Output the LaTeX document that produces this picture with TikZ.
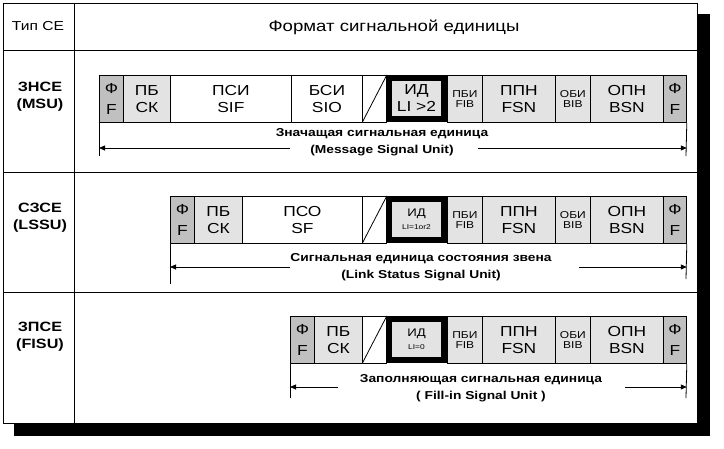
\documentclass[tikz,border=0pt]{standalone}
\usepackage{fontspec}
\setmainfont{Liberation Sans}[FakeStretch=1.2]
\usetikzlibrary{arrows.meta}
\definecolor{fdark}{RGB}{192,192,192}
\definecolor{flight}{RGB}{227,227,227}
\newcommand\myfs[2]{\fontsize{#1}{#2}\selectfont}
\tikzset{
  gridln/.style={line width=0.9pt, draw=black},
  cellbox/.style={draw=black, line width=0.8pt, inner sep=0pt, anchor=north west,
    minimum height=47pt, align=center, font=\myfs{14.5}{17}},
  bigtxt/.style={font=\myfs{14.5}{17}},
  smalltxt/.style={font=\myfs{10}{10.5}},
  idbox/.style={draw=black, line width=6pt, fill=flight, inner sep=0pt,
    minimum width=55pt, minimum height=41pt, align=center},
  frameln/.style={line width=0.8pt},
  arr/.style={line width=0.8pt, -{Triangle[length=6pt,width=5pt]}},
  desc/.style={align=center, font=\bfseries\myfs{11.5}{17}},
  rowlab/.style={align=center, font=\bfseries\myfs{13.5}{17}},
}
\newcommand\rightpart[2]{%
  \node[cellbox, fill=white, minimum width=24pt] (#1s) at (362,#2) {};
  \draw[line width=0.8pt] (#1s.south west) -- (#1s.north east);
  \node[cellbox, fill=flight, minimum width=35pt, smalltxt] (#1fib) at (447,#2) {ПБИ\\FIB};
  \node[cellbox, fill=flight, minimum width=73pt] (#1fsn) at (482,#2) {ППН\\FSN};
  \node[cellbox, fill=flight, minimum width=35pt, smalltxt] (#1bib) at (555,#2) {ОБИ\\BIB};
  \node[cellbox, fill=flight, minimum width=73pt] (#1bsn) at (590,#2) {ОПН\\BSN};
  \node[cellbox, fill=fdark, minimum width=23pt, font=\myfs{14.5}{21}] (#1fr) at (663,#2) {Ф\\F};
}
\begin{document}
\begin{tikzpicture}[x=1pt,y=-1pt]
\useasboundingbox (0,0) rectangle (724,448);
% shadow and table
\fill[black] (14,14) rectangle (710,436);
\node[draw=black, line width=0.9pt, fill=white, minimum width=694pt, minimum height=420pt,
  inner sep=0pt, anchor=north west] (tbl) at (3,3) {};
\coordinate (c1t) at (74,3);
\coordinate (c1b) at (74,423);
\draw[gridln] (c1t) -- (c1b);
\coordinate (h1l) at (3,50);   \coordinate (h1r) at (697,50);
\coordinate (h2l) at (3,172);  \coordinate (h2r) at (697,172);
\coordinate (h3l) at (3,292);  \coordinate (h3r) at (697,292);
\draw[gridln] (h1l) -- (h1r);
\draw[gridln] (h2l) -- (h2r);
\draw[gridln] (h3l) -- (h3r);
% header
\node[font=\myfs{13}{15}] (hType) at (38,26) {Тип СЕ};
\node[font=\myfs{15.5}{18}] (hFmt) at (394,27) {Формат сигнальной единицы};
% row labels
\node[rowlab] (rMSU) at (40,97) {ЗНСЕ\\(MSU)};
\node[rowlab] (rLSSU) at (40,218) {СЗСЕ\\(LSSU)};
\node[rowlab] (rFISU) at (40,337) {ЗПСЕ\\(FISU)};

% ===== MSU =====
\node[cellbox, fill=fdark, minimum width=24pt, font=\myfs{14.5}{21}] (m1) at (99,75) {Ф\\F};
\node[cellbox, fill=flight, minimum width=47pt] (m2) at (123,75) {ПБ\\СК};
\node[cellbox, fill=white, minimum width=121pt] (m3) at (170,75) {ПСИ\\SIF};
\node[cellbox, fill=white, minimum width=71pt] (m4) at (291,75) {БСИ\\SIO};
\rightpart{m}{75}
\node[idbox, bigtxt] (mid) at (416.5,98.5) {ИД\\LI >2};
\coordinate (mLd) at (99,156);
\coordinate (mRd) at (686,156);
\draw[frameln] (m1.south west) -- (mLd);
\draw[frameln] (mfr.south east) -- (mRd);
\node[desc] (mdesc) at (382,142) {Значащая сигнальная единица\\(Message Signal Unit)};
\coordinate (mLa) at (290,148);
\coordinate (mRa) at (478,148);
\draw[arr] (mLa) -- (mLa -| m1.west);
\draw[arr] (mRa) -- (mRa -| mfr.east);

% ===== LSSU =====
\node[cellbox, fill=fdark, minimum width=24pt, font=\myfs{14.5}{21}] (l1) at (170,196) {Ф\\F};
\node[cellbox, fill=flight, minimum width=48pt] (l2) at (194,196) {ПБ\\СК};
\node[cellbox, fill=white, minimum width=120pt] (l3) at (242,196) {ПСО\\SF};
\rightpart{l}{196}
\node[idbox, font=\myfs{11}{13}] (lid) at (416.5,219.5) {ИД\\{\myfs{7}{7}LI=1or2}};
\coordinate (lLd) at (170,284);
\coordinate (lRd) at (686,279);
\draw[frameln] (l1.south west) -- (lLd);
\draw[frameln] (lfr.south east) -- (lRd);
\node[desc] (ldesc) at (421,267) {Сигнальная единица состояния звена\\(Link Status Signal Unit)};
\coordinate (lLa) at (290,267);
\coordinate (lRa) at (579,267);
\draw[arr] (lLa) -- (lLa -| l1.west);
\draw[arr] (lRa) -- (lRa -| lfr.east);

% ===== FISU =====
\node[cellbox, fill=fdark, minimum width=24pt, font=\myfs{14.5}{21}] (f1) at (290,316) {Ф\\F};
\node[cellbox, fill=flight, minimum width=48pt] (f2) at (314,316) {ПБ\\СК};
\rightpart{f}{316}
\node[idbox, font=\myfs{11}{13}] (fid) at (416.5,339.5) {ИД\\{\myfs{7}{7}LI=0}};
\coordinate (fLd) at (290,398);
\coordinate (fRd) at (686,398);
\draw[frameln] (f1.south west) -- (fLd);
\draw[frameln] (ffr.south east) -- (fRd);
\node[desc] (fdesc) at (481,388) {Заполняющая сигнальная единица\\( Fill-in Signal Unit )};
\coordinate (fLa) at (338,387);
\coordinate (fRa) at (625,387);
\draw[arr] (fLa) -- (fLa -| f1.west);
\draw[arr] (fRa) -- (fRa -| ffr.east);
\end{tikzpicture}
\end{document}
